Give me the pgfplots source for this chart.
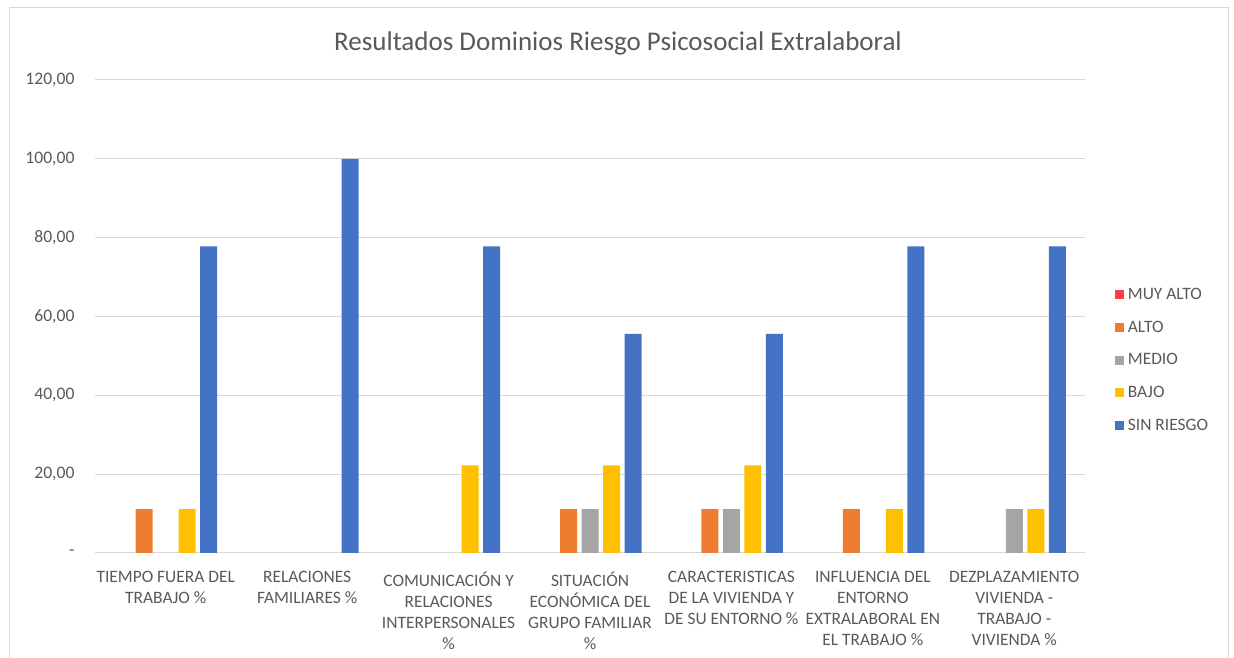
\documentclass[border=0pt]{standalone}
\usepackage{fontspec}
\setmainfont{Carlito}
\usepackage{pgfplots}
\pgfplotsset{compat=1.18}
\definecolor{muyalto}{HTML}{FF3F3F}
\definecolor{alto}{HTML}{ED7D31}
\definecolor{medio}{HTML}{A5A5A5}
\definecolor{bajo}{HTML}{FFC000}
\definecolor{sinriesgo}{HTML}{4472C4}
\definecolor{txt}{HTML}{595959}
\definecolor{grd}{HTML}{D9D9D9}
\pgfplotsset{sq legend/.style={legend image code/.code={\fill[##1] (0pt,-4.5pt) rectangle (9pt,4.5pt);}}}

\begin{document}
\begin{tikzpicture}
\useasboundingbox (0,0) rectangle (1234pt,658pt);
\draw[grd, line width=1pt] (9pt,-5pt) -- (9pt,650pt) -- (1228pt,650pt) -- (1228pt,-5pt);
\begin{axis}[
    at={(95pt,105pt)}, anchor=south west,
    scale only axis,
    width=990pt, height=473pt,
    ybar, bar width=17pt,
    xmin=-0.5, xmax=6.5,
    ymin=0, ymax=120,
    xtick={0,...,6},
    xticklabels={
      {TIEMPO FUERA DEL\\TRABAJO \%},
      {RELACIONES\\FAMILIARES \%},
      {COMUNICACIÓN Y\\RELACIONES\\INTERPERSONALES\\\%},
      {SITUACIÓN\\ECONÓMICA DEL\\GRUPO FAMILIAR\\\%},
      {CARACTERISTICAS\\DE LA VIVIENDA Y\\DE SU ENTORNO \%},
      {INFLUENCIA DEL\\ENTORNO\\EXTRALABORAL EN\\EL TRABAJO \%},
      {DEZPLAZAMIENTO\\VIVIENDA -\\TRABAJO -\\VIVIENDA \%}},
    ytick={0,20,40,60,80,100,120},
    yticklabels={-,{20,00},{40,00},{60,00},{80,00},{100,00},{120,00}},
    ymajorgrids, grid style={grd, line width=1pt},
    axis line style={draw=none},
    axis x line*=bottom,
    x axis line style={grd, line width=1pt},
    axis y line*=left,
    y axis line style={draw=none},
    major tick length=0pt,
    tick label style={text=txt, font=\fontsize{17.6}{21}\selectfont},
    yticklabel style={xshift=-17pt},
    xticklabel style={align=center, yshift=-15pt, font=\fontsize{17.4}{21}\selectfont},
    legend style={at={(1.03,0.408)}, anchor=west, draw=none, fill=none,
      font=\fontsize{17.4}{20}\selectfont, text=txt, row sep=15.8pt, inner sep=0pt,
      cells={anchor=west}, nodes={inner xsep=4pt}},
    legend cell align=left,
]
\addlegendimage{sq legend, fill=muyalto, draw=none}
\addplot[fill=alto, draw=none, sq legend, bar shift=-21.5pt] coordinates {(0,11.11) (3,11.11) (4,11.11) (5,11.11)};
\addplot[fill=medio, draw=none, sq legend, bar shift=0pt] coordinates {(3,11.11) (4,11.11) (6,11.11)};
\addplot[fill=bajo, draw=none, sq legend, bar shift=21.5pt] coordinates {(0,11.11) (2,22.22) (3,22.22) (4,22.22) (5,11.11) (6,11.11)};
\addplot[fill=sinriesgo, draw=none, sq legend, bar shift=43pt] coordinates {(0,77.78) (1,100) (2,77.78) (3,55.56) (4,55.56) (5,77.78) (6,77.78)};
\legend{MUY ALTO, ALTO, MEDIO, BAJO, SIN RIESGO}
\end{axis}
\node[text=txt, font=\fontsize{27}{32}\selectfont] at (618pt,615pt) {Resultados Dominios Riesgo Psicosocial Extralaboral};
\end{tikzpicture}
\end{document}
